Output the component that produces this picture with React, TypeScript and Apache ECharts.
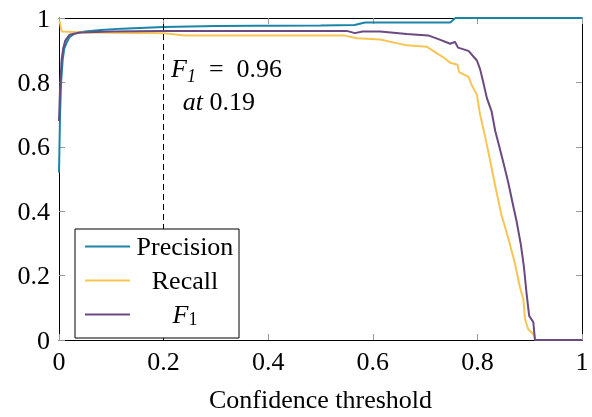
import React, { useEffect, useRef } from 'react';
import * as echarts from 'echarts';

const seriesNames = ['Precision', 'Recall', 'F1'];
const seriesColors = ['#1a85a8', '#f8c555', '#6a4a80'];

const precision: [number, number][] = [
  [0, 0.52], [0.002, 0.7], [0.004, 0.8], [0.007, 0.87], [0.01, 0.905], [0.015, 0.925],
  [0.02, 0.94], [0.03, 0.952], [0.05, 0.958], [0.08, 0.963], [0.12, 0.967], [0.2, 0.972],
  [0.3, 0.975], [0.4, 0.976], [0.5, 0.977], [0.565, 0.978], [0.585, 0.986], [0.7, 0.986],
  [0.748, 0.986], [0.758, 1.0], [1.0, 1.0],
];

const recall: [number, number][] = [
  [0, 0.99], [0.002, 0.985], [0.004, 0.965], [0.006, 0.958], [0.05, 0.955], [0.2, 0.953],
  [0.24, 0.946], [0.4, 0.946], [0.545, 0.946], [0.57, 0.937], [0.614, 0.933], [0.665, 0.915],
  [0.703, 0.911], [0.722, 0.891], [0.735, 0.878], [0.748, 0.861], [0.762, 0.855], [0.765, 0.832],
  [0.783, 0.817], [0.789, 0.792], [0.799, 0.762], [0.805, 0.701], [0.815, 0.63], [0.824, 0.56],
  [0.834, 0.479], [0.846, 0.388], [0.859, 0.317], [0.872, 0.236], [0.881, 0.166], [0.888, 0.125],
  [0.891, 0.065], [0.897, 0.034], [0.909, 0.014], [0.911, 0], [1, 0],
];

const f1: [number, number][] = [
  [0, 0.68], [0.002, 0.78], [0.005, 0.87], [0.008, 0.905], [0.012, 0.93], [0.02, 0.948],
  [0.04, 0.955], [0.1, 0.958], [0.2, 0.96], [0.4, 0.96], [0.55, 0.96], [0.566, 0.953],
  [0.58, 0.958], [0.614, 0.958], [0.665, 0.95], [0.706, 0.946], [0.728, 0.933], [0.748, 0.92],
  [0.757, 0.926], [0.763, 0.908], [0.783, 0.898], [0.799, 0.868], [0.805, 0.842], [0.811, 0.802],
  [0.818, 0.752], [0.827, 0.711], [0.834, 0.65], [0.842, 0.6], [0.85, 0.549], [0.859, 0.489],
  [0.867, 0.428], [0.875, 0.368], [0.883, 0.297], [0.889, 0.226], [0.894, 0.145], [0.899, 0.075],
  [0.907, 0.055], [0.91, 0], [1, 0],
];

const bestThreshold = 0.197;
const bestThresholdLabel = '0.19';
const bestF1Label = '0.96';
const xAxisName = 'Confidence threshold';

const FONT = "'Liberation Serif', 'Times New Roman', serif";
const FS = 26;

export default function App() {
  const ref = useRef<HTMLDivElement>(null);
  useEffect(() => {
    const chart = echarts.init(ref.current!, null, { renderer: 'svg' });
    const tickStyle = { show: true, inside: true, length: 6, lineStyle: { color: '#9a9a9a', width: 1 } };
    const lineStyle = { show: true, onZero: false, lineStyle: { color: '#000', width: 1 } };
    const fmt = (v: number) => (v === 0 || v === 1 ? String(v) : v.toFixed(1));
    chart.setOption({
      animation: false,
      textStyle: { fontFamily: FONT },
      grid: { left: 59, right: 10, top: 18, bottom: 69 },
      xAxis: [
        {
          type: 'value', min: 0, max: 1, interval: 0.2, position: 'bottom',
          axisLine: lineStyle, axisTick: tickStyle, splitLine: { show: false },
          axisLabel: { color: '#000', fontSize: FS, fontFamily: FONT, margin: 8, formatter: fmt },
          name: xAxisName, nameLocation: 'middle', nameGap: 46,
          nameTextStyle: { color: '#000', fontSize: FS, fontFamily: FONT },
        },
        {
          type: 'value', min: 0, max: 1, interval: 0.2, position: 'top',
          axisLine: lineStyle, axisTick: tickStyle, splitLine: { show: false }, axisLabel: { show: false },
        },
      ],
      yAxis: [
        {
          type: 'value', min: 0, max: 1, interval: 0.2, position: 'left',
          axisLine: lineStyle, axisTick: tickStyle, splitLine: { show: false },
          axisLabel: { color: '#000', fontSize: FS, fontFamily: FONT, margin: 9, formatter: fmt },
        },
        {
          type: 'value', min: 0, max: 1, interval: 0.2, position: 'right',
          axisLine: lineStyle, axisTick: tickStyle, splitLine: { show: false }, axisLabel: { show: false },
        },
      ],
      legend: {
        data: seriesNames, orient: 'vertical', left: 75, top: 229, z: 10,
        backgroundColor: '#fff', borderColor: '#000', borderWidth: 1, borderRadius: 0,
        padding: [4, 4, 10, 10], itemGap: 7, itemWidth: 45, itemHeight: 2, icon: 'rect',
        formatter: (n: string) => (n === 'F1' ? '{fi|F}{fs|1}' : `{t|${n}}`),
        textStyle: {
          color: '#000', fontSize: FS, fontFamily: FONT, width: 100, lineHeight: 27,
          rich: {
            t: { fontSize: FS, fontFamily: FONT, align: 'center', color: '#000' },
            fi: { fontSize: FS, fontFamily: FONT, fontStyle: 'italic', align: 'center', color: '#000' },
            fs: { fontSize: 18, fontFamily: FONT, align: 'center', verticalAlign: 'bottom', color: '#000' },
          },
        },
      },
      series: [precision, recall, f1].map((d, i) => ({
        name: seriesNames[i], type: 'line', data: d, symbol: 'none', showSymbol: false,
        lineStyle: { color: seriesColors[i], width: 2 }, itemStyle: { color: seriesColors[i] },
        z: 2 + i,
        ...(i === 0
          ? {
              markLine: {
                silent: true, symbol: ['none', 'none'], label: { show: false },
                lineStyle: { color: '#000', type: [6, 4], width: 1 },
                data: [{ xAxis: bestThreshold }],
              },
            }
          : {}),
      })),
      graphic: [
        {
          type: 'text', left: 171, top: 52, z: 20,
          style: {
            text: `{fi|F}{fs|1}{n|  =  ${bestF1Label}}\n{n| \u2009}{fi|at}{n| ${bestThresholdLabel}}`,
            fill: '#000',
            font: `${FS}px ${FONT}`,
            lineHeight: 33,
            rich: {
              n: { fontSize: FS, fontFamily: FONT, lineHeight: 33 },
              fi: { fontSize: FS, fontFamily: FONT, fontStyle: 'italic', lineHeight: 33 },
              fs: { fontSize: 18, fontFamily: FONT, fontStyle: 'italic', verticalAlign: 'bottom', lineHeight: 27 },
            },
          },
        },
      ],
    });
    return () => chart.dispose();
  }, []);
  return <div ref={ref} style={{ position: 'fixed', left: 0, top: 0, width: 592, height: 417 }} />;
}
